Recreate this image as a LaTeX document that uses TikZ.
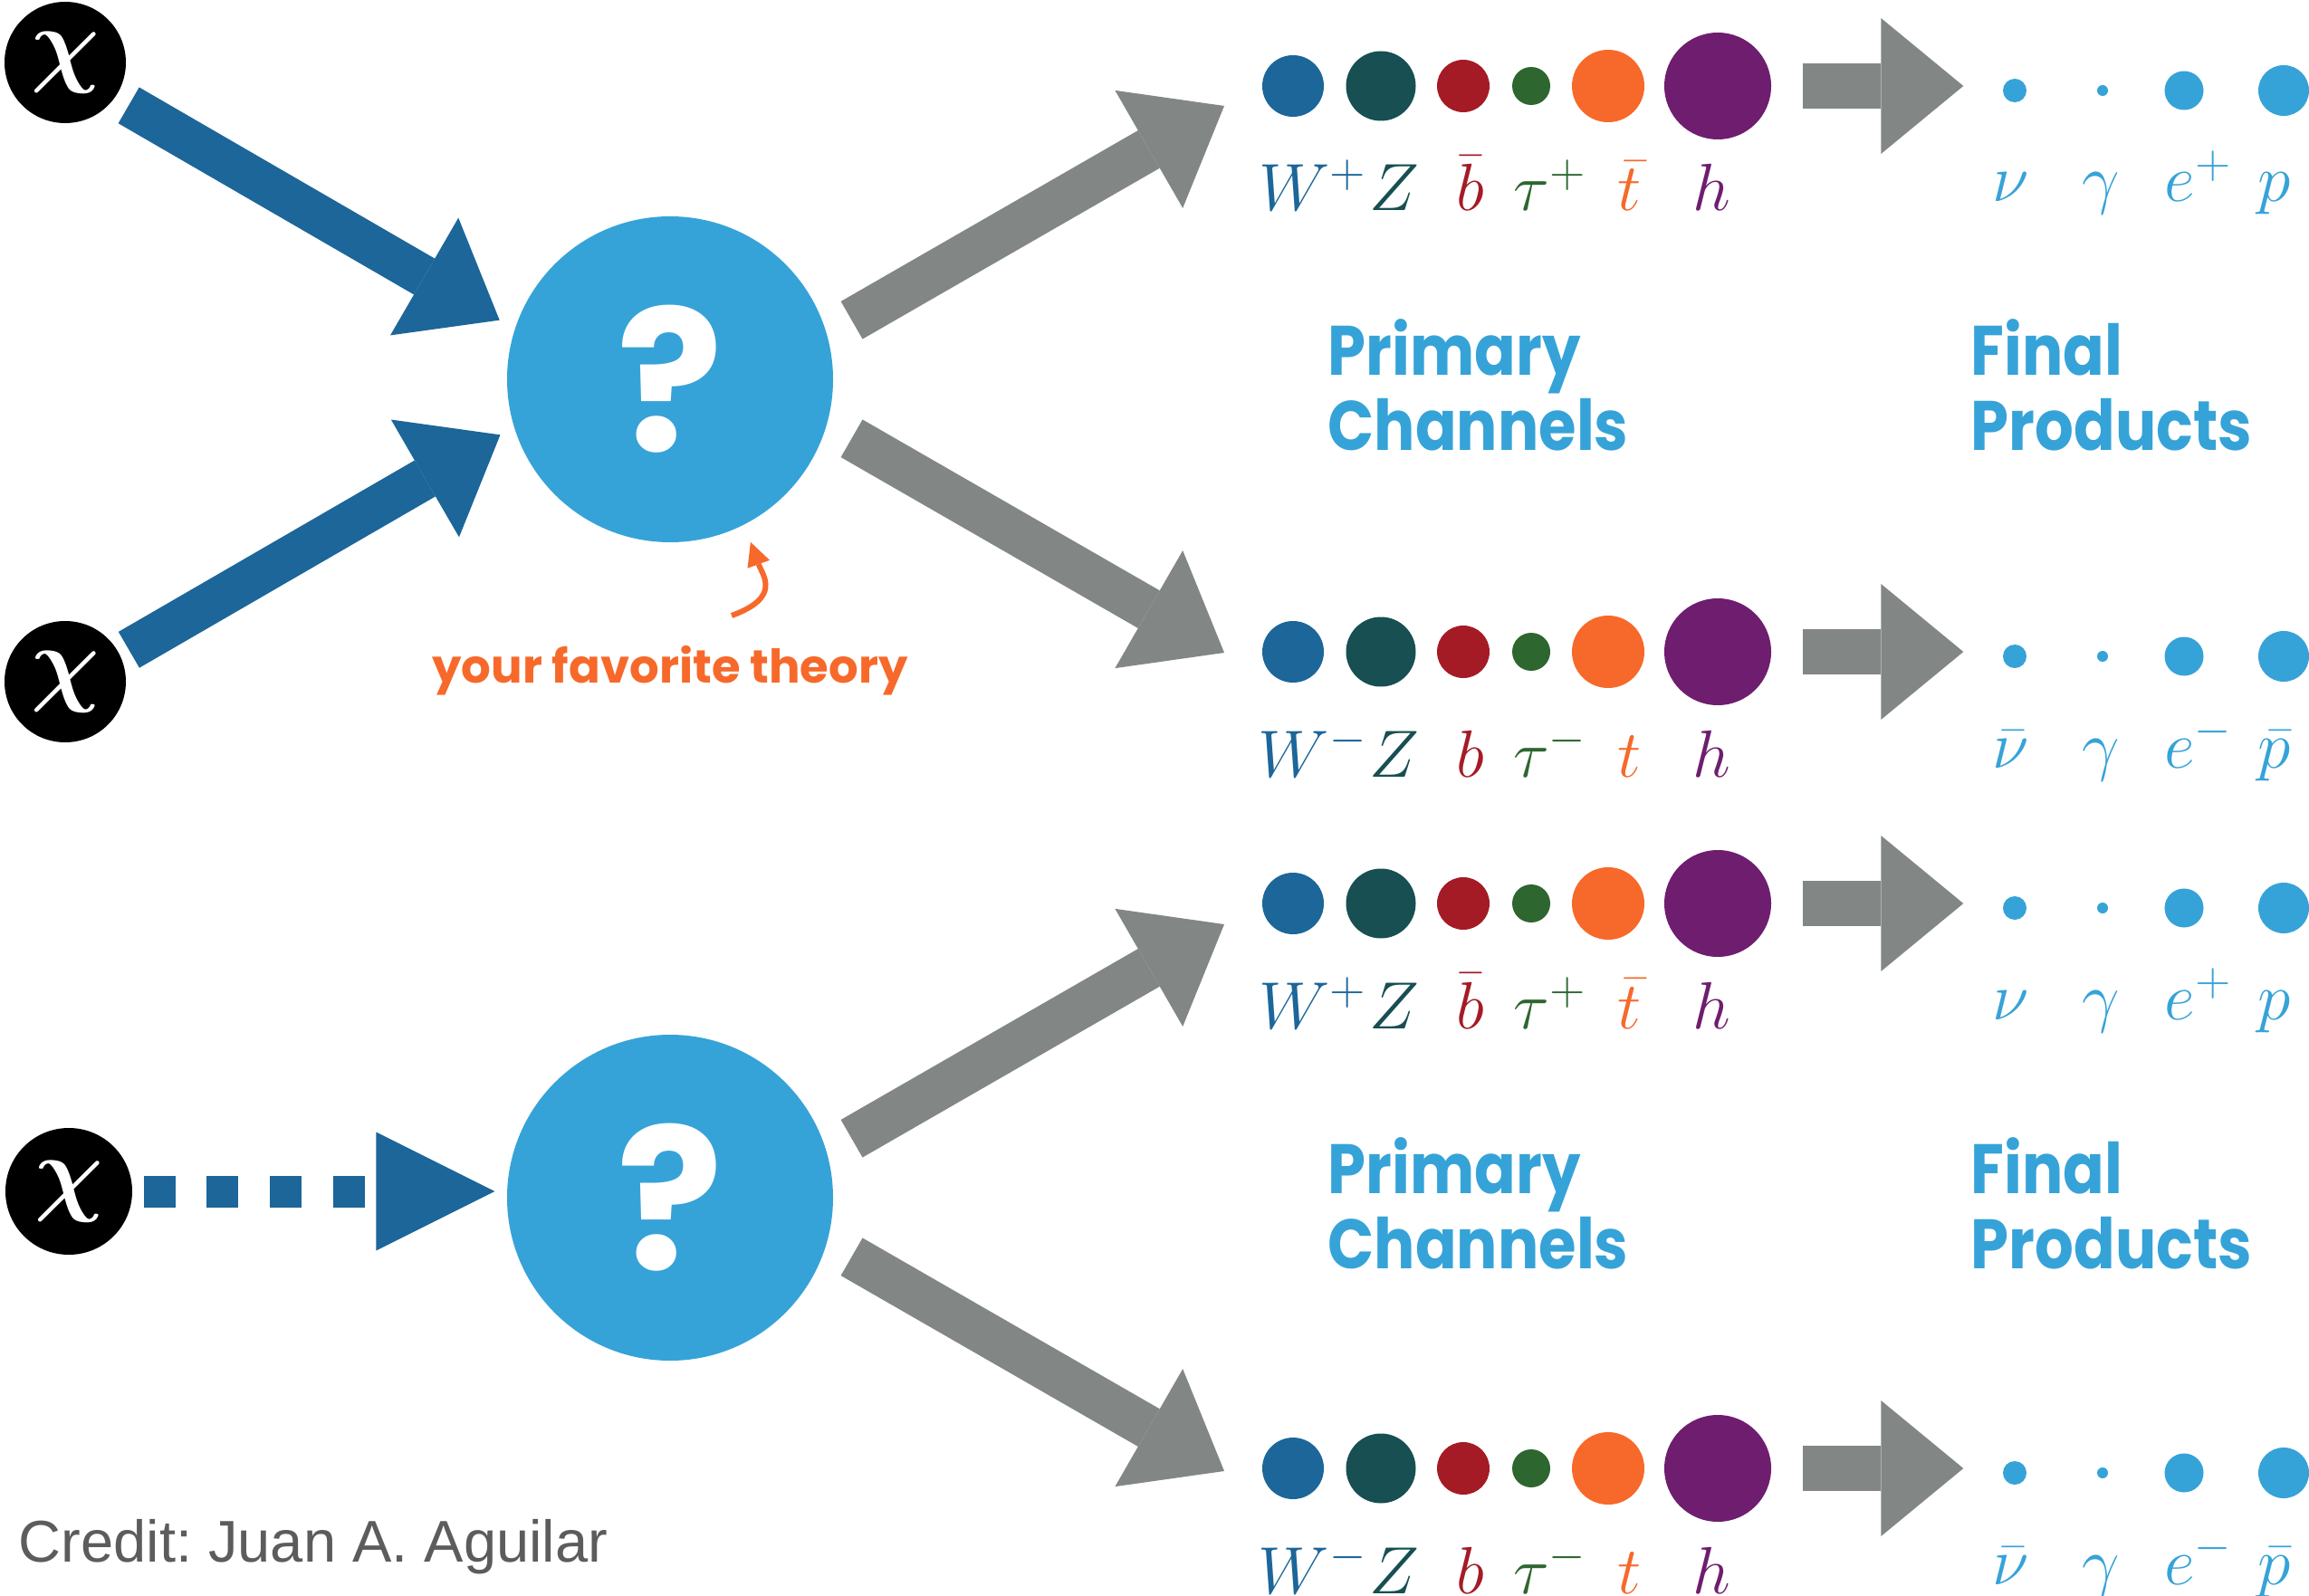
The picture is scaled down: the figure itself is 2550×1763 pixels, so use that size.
\RequirePackage{fix-cm}
\documentclass[tikz,border=0pt]{standalone}
\usepackage{amsmath}
\usepackage{fontspec}
\usepackage{tikz}
\usetikzlibrary{
  arrows.meta
}
\newfontfamily\popfont{Poppins}
\newfontfamily\headfont{Poppins}[FakeStretch=0.87]
\newfontfamily\creditfont{Liberation Sans}
\definecolor{wblue}{HTML}{1C6699}
\definecolor{zteal}{HTML}{174F52}
\definecolor{bred}{HTML}{A51B25}
\definecolor{taugreen}{HTML}{2E6630}
\definecolor{torange}{HTML}{F7692A}
\definecolor{hpurple}{HTML}{6F1D6F}
\definecolor{lblue}{HTML}{36A3D8}
\definecolor{agray}{HTML}{828786}
\definecolor{cgray}{HTML}{5C5C5C}
\tikzset{
  chi/.style={circle, fill=black, inner sep=0pt, minimum size=13.4mm, text=white,
    font=\fontsize{30}{30}\selectfont\boldmath},
  theory/.style={circle, fill=lblue, inner sep=0pt, minimum size=36mm, text=white,
    font=\popfont\bfseries\fontsize{62}{62}\selectfont},
  part/.style={circle, inner sep=0pt, fill=#1},
  plabel/.style={anchor=base, inner sep=0pt, text=#1, font=\fontsize{21}{21}\selectfont},
  heading/.style={anchor=north west, inner sep=0pt, align=left, text=lblue,
    font=\headfont\bfseries\fontsize{22}{23.6}\selectfont},
  inarrow/.style={draw=wblue, line width=4.6mm, -{Triangle[length=9.6mm, width=15mm, line width=0pt]}},
  outarrow/.style={draw=agray, line width=4.8mm, -{Triangle[length=9.6mm, width=15mm, line width=0pt]}},
  decayarrow/.style={draw=agray, line width=5mm, -{Triangle[length=9.1mm, width=15mm, line width=0pt]}},
  dasharrow/.style={draw=wblue, line width=3.5mm, dash pattern=on 3.5mm off 3.47mm,
    -{Triangle[length=13.1mm, width=13.1mm, line width=0pt]}},
  favarrow/.style={draw=torange, line width=0.6mm, -{Triangle[length=2.6mm, width=2.6mm, line width=0pt]}}
}

\begin{document}
\begin{tikzpicture}[x=0.1mm, y=-0.1mm]
  \fill[white] (0,0) rectangle (2550,1763);
  \useasboundingbox (0,0) rectangle (2550,1763);

  % dark matter and the unknown theory
  \node[chi] (chi1) at (72,69) {$\chi$};
  \node[chi] (chi2) at (72,753) {$\chi$};
  \node[chi, minimum size=14mm] (chi3) at (76,1316) {$\chi$};
  \node[theory] (q1) at (740,419) {?};
  \node[theory] (q2) at (740,1323) {?};
  \draw[inarrow, shorten <=1.7mm, shorten >=1.9mm] (chi1.-35) -- (q1.162);
  \draw[inarrow, shorten <=1.1mm, shorten >=1.7mm] (chi2.26) -- (q1.-163);
  \draw[dasharrow, shorten <=1.2mm, shorten >=1.3mm] (chi3.east) -- (q2.west |- chi3.east);

  \node[anchor=base, text=torange, font=\popfont\bfseries\fontsize{14.6}{14.6}\selectfont]
    (fav) at (740,754) {your favorite theory};
  \draw[favarrow, shorten >=2mm] ([xshift=6.8mm, yshift=7.4mm]fav.base)
    to[out=20, in=-70, looseness=1.5] (q1.-63);

  % channels and final products
  \foreach \row/\y/\tip/\sg/\bq/\tq/\nq/\pq in {
      a/95/117/+/\bar b/\bar t/\nu/p,
      b/720/721/-/b/t/\bar\nu/\bar p,
      c/998/1021/+/\bar b/\bar t/\nu/p,
      d/1622/1625/-/b/t/\bar\nu/\bar p}{
    \node[part=wblue, minimum size=6.8mm] (\row W) at (1428,\y) {};
    \node[part=zteal, minimum size=7.7mm] (\row Z) at (1525,\y) {};
    \node[part=bred, minimum size=5.8mm] (\row b) at (1616,\y) {};
    \node[part=taugreen, minimum size=4.2mm] (\row tau) at (1691,\y) {};
    \node[part=torange, minimum size=8mm] (\row t) at (1776,\y) {};
    \node[part=hpurple, minimum size=11.8mm] (\row h) at (1897,\y) {};
    \node[part=lblue, minimum size=2.6mm] (\row nu) at (2225,\y+5) {};
    \node[part=lblue, minimum size=1.2mm] (\row ga) at (2322,\y+5) {};
    \node[part=lblue, minimum size=4.3mm] (\row e) at (2412,\y+5) {};
    \node[part=lblue, minimum size=5.6mm] (\row p) at (2522,\y+5) {};
    \node[plabel=wblue] (\row Wl) at (1450,\y+138) {$W^{\sg}$};
    \node[plabel=zteal] (\row Zl) at (1540,\y+138) {$Z$};
    \node[plabel=bred] (\row bl) at (1624,\y+138) {$\bq$};
    \node[plabel=taugreen] (\row taul) at (1712,\y+138) {$\tau^{\sg}$};
    \node[plabel=torange] (\row tl) at (1800,\y+138) {$\tq$};
    \node[plabel=hpurple] (\row hl) at (1890,\y+138) {$h$};
    \node[plabel=lblue] (\row nul) at (2221,\y+128) {$\nq$};
    \node[plabel=lblue] (\row gal) at (2320,\y+128) {$\gamma$};
    \node[plabel=lblue] (\row el) at (2428,\y+128) {$e^{\sg}$};
    \node[plabel=lblue] (\row pl) at (2512,\y+128) {$\pq$};
    \draw[decayarrow, shorten <=3.4mm, shorten >=4.3mm] (\row h.east) -- (\row h.east -| \row nu.west);
    \coordinate (\row in) at (1352,\tip);
  }
  \draw[outarrow, shorten <=3.1mm] (q1.16) -- (ain);
  \draw[outarrow, shorten <=3.1mm] (q1.-16) -- (bin);
  \draw[outarrow, shorten <=3.1mm] (q2.16) -- (cin);
  \draw[outarrow, shorten <=3.1mm] (q2.-16) -- (din);

  \node[heading] (prim1) at (1466,352) {Primary\\Channels};
  \node[heading] (fin1) at (2176,352) {Final\\Products};
  \node[heading] (prim2) at (1466,1256) {Primary\\Channels};
  \node[heading] (fin2) at (2176,1256) {Final\\Products};

  \node[anchor=base west, inner sep=0pt, text=cgray,
    font=\creditfont\fontsize{18.5}{18.5}\selectfont\frenchspacing] (credit) at (20,1725) {Credit: Juan A. Aguilar};
\end{tikzpicture}
\end{document}
